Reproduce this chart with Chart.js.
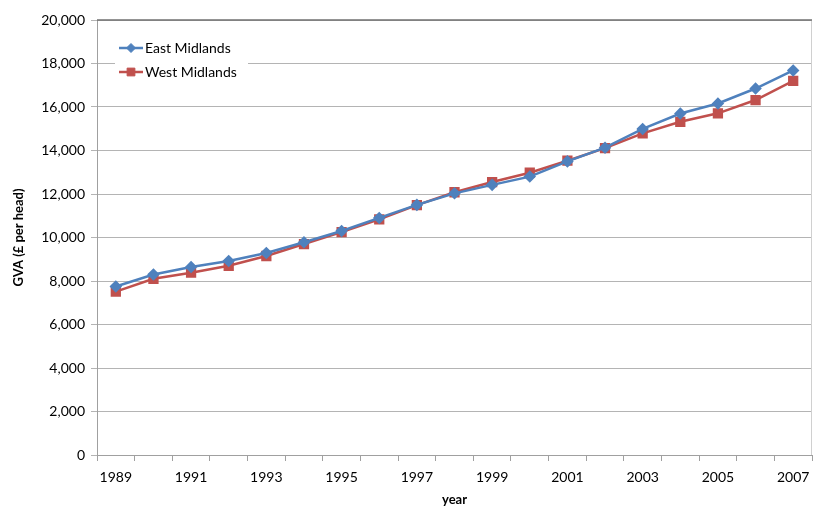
<!DOCTYPE html>
<html>
<head>
<meta charset="utf-8">
<script src="https://cdn.jsdelivr.net/npm/chart.js@4.4.1/dist/chart.umd.min.js"></script>
<style>
  html, body { margin: 0; padding: 0; background: #fff; overflow: hidden; }
  #wrap { position: relative; width: 814px; height: 506px; }
</style>
</head>
<body>
<div id="wrap"><canvas id="chart" width="814" height="506"></canvas></div>
<script>
// GVA per head (£), 1989–2007
const years = ['1989','1990','1991','1992','1993','1994','1995','1996','1997','1998',
               '1999','2000','2001','2002','2003','2004','2005','2006','2007'];
const eastMidlands = [7750, 8300, 8640, 8920, 9290, 9780, 10300, 10900, 11500, 12030,
                      12420, 12800, 13500, 14130, 14990, 15700, 16160, 16850, 17680];
const westMidlands = [7510, 8100, 8380, 8700, 9150, 9700, 10250, 10830, 11490, 12080,
                      12550, 12980, 13530, 14110, 14790, 15320, 15710, 16320, 17200];
const yTicks = { min: 0, max: 20000, step: 2000 };

const FONT = 'Lato, "Liberation Sans", sans-serif';
const BLUE = '#4F81BD';
const RED = '#C0504D';

// Legend box drawn inside the plot area, top-left
const innerLegend = {
  id: 'innerLegend',
  afterDatasetsDraw(chart) {
    const ctx = chart.ctx;
    const a = chart.chartArea;
    const x0 = a.left + 18, y0 = a.top + 16;
    ctx.save();
    ctx.fillStyle = '#fff';
    ctx.fillRect(x0, y0, 133, 48);
    chart.data.datasets.forEach((ds, i) => {
      const cy = y0 + 12 + i * 24;
      ctx.strokeStyle = ds.borderColor;
      ctx.lineWidth = 2.5;
      ctx.beginPath();
      ctx.moveTo(x0 + 4, cy);
      ctx.lineTo(x0 + 28, cy);
      ctx.stroke();
      ctx.fillStyle = ds.backgroundColor;
      ctx.strokeStyle = ds.borderColor;
      ctx.lineWidth = 1;
      Chart.helpers.drawPoint(ctx, {
        pointStyle: ds.pointStyle, radius: ds.pointRadius, borderWidth: 1
      }, x0 + 16, cy);
      ctx.fillStyle = '#000';
      ctx.font = '14px ' + FONT;
      ctx.textBaseline = 'middle';
      ctx.textAlign = 'left';
      ctx.fillText(ds.label, x0 + 30, cy);
    });
    ctx.restore();
  }
};

// Frame lines on top and right of the plot area
const frame = {
  id: 'frame',
  beforeDatasetsDraw(chart) {
    const ctx = chart.ctx, a = chart.chartArea;
    ctx.save();
    ctx.strokeStyle = '#d0d0d0';
    ctx.lineWidth = 1;
    ctx.beginPath();
    ctx.moveTo(a.right - 0.5, a.top);
    ctx.lineTo(a.right - 0.5, a.bottom);
    ctx.stroke();
    ctx.strokeStyle = '#707070';
    ctx.lineWidth = 1.5;
    ctx.beginPath();
    ctx.moveTo(a.left, a.top);
    ctx.lineTo(a.right, a.top);
    ctx.stroke();
    ctx.restore();
  }
};

new Chart(document.getElementById('chart'), {
  type: 'line',
  data: {
    labels: years,
    datasets: [
      {
        label: 'East Midlands',
        data: eastMidlands,
        borderColor: BLUE,
        backgroundColor: BLUE,
        borderWidth: 2.5,
        pointStyle: 'rectRot',
        pointRadius: 4.5,
        pointHoverRadius: 4.5,
        tension: 0
      },
      {
        label: 'West Midlands',
        data: westMidlands,
        borderColor: RED,
        backgroundColor: RED,
        borderWidth: 2.5,
        pointStyle: 'rect',
        pointRadius: 5.5,
        pointHoverRadius: 5.5,
        tension: 0
      }
    ]
  },
  options: {
    responsive: false,
    animation: false,
    layout: { autoPadding: false, padding: { top: 20, right: 2, left: 0, bottom: 0 } },
    plugins: {
      legend: { display: false },
      tooltip: { enabled: false }
    },
    scales: {
      x: {
        type: 'category',
        offset: true,
        grid: {
          offset: true,
          drawOnChartArea: false,
          drawTicks: true,
          tickLength: 6,
          color: '#a0a0a0'
        },
        border: { display: true, color: '#a0a0a0', width: 1 },
        ticks: {
          autoSkip: false,
          maxRotation: 0,
          padding: 8,
          color: '#000',
          font: { family: FONT, size: 14 },
          callback: (v, i) => (i % 2 === 0 ? years[i] : '')
        },
        title: {
          display: true,
          text: 'year',
          color: '#000',
          font: { family: FONT, size: 13, weight: 'bold', lineHeight: 1 },
          padding: { top: 4, bottom: 0 }
        },
        afterFit(scale) {
          scale.height = 51;
          scale.paddingLeft = 0;
          scale.paddingRight = 0;
        }
      },
      y: {
        min: yTicks.min,
        max: yTicks.max,
        grid: {
          color: '#b4b4b4',
          drawTicks: true,
          tickLength: 6
        },
        border: { display: true, color: '#a0a0a0', width: 1 },
        ticks: {
          stepSize: yTicks.step,
          padding: 6,
          color: '#000',
          font: { family: FONT, size: 14 },
          callback: v => v.toLocaleString('en-US')
        },
        title: {
          display: true,
          text: 'GVA (£ per head)',
          color: '#000',
          font: { family: FONT, size: 13, weight: 'bold', lineHeight: 1.2 },
          padding: { top: 11, bottom: 0 }
        },
        afterFit(scale) {
          scale.width = 97;
          scale.paddingTop = 0;
          scale.paddingBottom = 0;
        }
      }
    }
  },
  plugins: [frame, innerLegend]
});
</script>
</body>
</html>
